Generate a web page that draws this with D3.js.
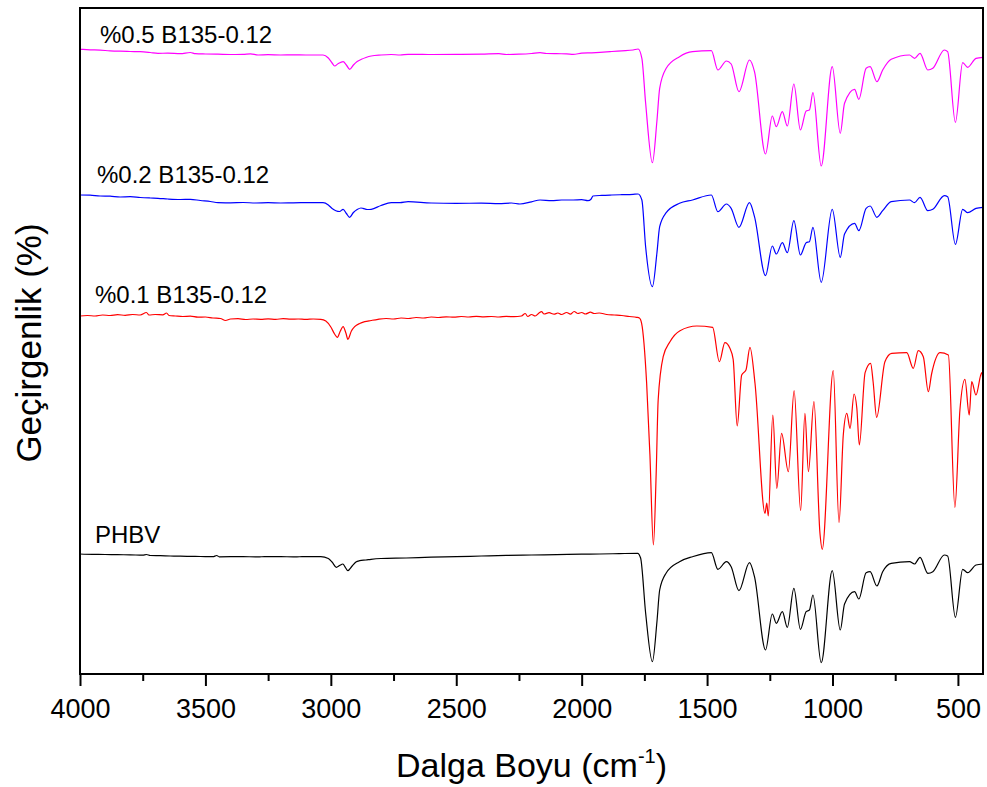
<!DOCTYPE html>
<html>
<head>
<meta charset="utf-8">
<script src="https://cdn.jsdelivr.net/npm/d3@7/dist/d3.min.js"></script>
<style>
  html, body { margin: 0; padding: 0; background: #fff; }
  svg { display: block; }
  text { font-family: Arial, "Liberation Sans", sans-serif; fill: #000; }
</style>
</head>
<body>
<svg id="chart" width="987" height="787"></svg>
<script>
// ---- Data (wavenumber cm^-1, transmittance in arbitrary offset units) ----
const seriesNames = ["%0.5 B135-0.12", "%0.2 B135-0.12", "%0.1 B135-0.12", "PHBV"];
const seriesColors = ["#ff00ff", "#0000ff", "#ff0000", "#000000"];
const majorTicks = [4000, 3500, 3000, 2500, 2000, 1500, 1000, 500];
const minorTicks = [3750, 3250, 2750, 2250, 1750, 1250, 750];

const b05 = [
  [4000,624.7],[3960,624.2],[3920,623.8],[3880,623.2],[3840,622.8],[3800,622.5],[3760,622.3],[3720,621.5],
  [3689,620.7],[3650,620.8],[3600,620.3],[3560,621.5],[3540,620.3],[3500,620],[3450,619.8],[3400,619.5],
  [3350,619.6],[3320,620.2],[3290,619],[3250,619.3],[3200,619],[3150,619.2],[3100,619],[3050,619],[3031,619],
  [3010,616],[2995,611],[2985,608],[2970,610.5],[2951,612.3],[2938,609],[2925,604.7],[2910,609],[2895,612.5],
  [2878,614.7],[2860,616.5],[2839,618],[2800,619],[2760,619.5],[2724,619],[2692,619.7],[2600,619.5],[2500,619.6],
  [2400,619.8],[2330,620.3],[2300,619.5],[2250,619.8],[2200,620.5],[2166,621.3],[2140,620.5],[2100,620.3],
  [2060,620.2],[2034,619.7],[2000,620.8],[1960,621.2],[1927,621.7],[1880,622.5],[1840,623.2],[1795,624],[1775,625],
  [1760,615.7],[1745,571],[1718,511.3],[1700,553],[1689,585.7],[1663,605.7],[1610,617.3],[1558,622.3],[1483,623.3],
  [1457,604],[1423,613],[1404,610],[1373,582.3],[1331,614],[1311,602.3],[1267,520],[1240,558],[1224,547.3],
  [1200,562.3],[1180,548],[1154,590],[1128,544],[1105,563],[1092,564],[1078,581.3],[1045,508],[1001,607.3],
  [969,540.7],[952,570.7],[912,584.7],[895,574.7],[866,605.7],[850,607.3],[823,592.3],[800,604],[766,614.7],
  [693,619],[673,615.7],[651,620.7],[620,604],[600,605.7],[554,624],[541,622.3],[510,551.7],[481,611.3],
  [461,606.7],[428,615.7],[400,616.7]
];

const b02 = [
  [4000,479],[3960,478.8],[3920,478],[3880,477.8],[3840,477],[3800,477.3],[3760,476.5],[3720,476],[3689,475.7],
  [3650,475],[3600,474.5],[3560,474.7],[3520,473.5],[3480,472.5],[3450,471.3],[3400,471.2],[3350,471.5],[3300,471],
  [3250,471.3],[3200,471],[3150,471.2],[3100,471.3],[3050,471.3],[3031,471.3],[3010,469],[2995,465.5],[2980,463.3],
  [2965,462.5],[2951,464.7],[2938,460.5],[2925,456.7],[2910,461.5],[2895,464.5],[2880,466],[2872,465.7],[2855,464.5],
  [2839,464.7],[2800,468.5],[2759,471.3],[2724,471.3],[2692,472.3],[2600,471],[2500,470.7],[2400,470.8],[2330,470.3],
  [2280,471],[2246,470],[2200,472.2],[2166,474],[2120,473.3],[2080,474],[2034,474],[2000,474.3],[1975,473.3],
  [1962,475],[1955,478],[1920,478.6],[1880,479],[1840,479.3],[1795,479.7],[1775,480],
  [1760,474],[1745,427.3],[1718,387.3],[1700,421],[1689,447.3],[1663,461.3],[1610,470.7],[1558,474],[1483,479],
  [1457,462.3],[1423,470],[1404,465.7],[1373,446.7],[1331,471.3],[1311,457.3],[1267,398.3],[1240,428],[1224,420],
  [1200,431.3],[1180,421.3],[1154,453.3],[1128,419],[1105,431.3],[1092,432.3],[1078,446.7],[1045,391.7],[1001,464.7],
  [969,416.7],[952,440],[912,450.7],[895,443.3],[866,465.7],[850,468],[823,456.7],[800,463.3],[766,472.3],
  [693,474],[673,471.3],[651,476.7],[620,463.3],[600,464.7],[554,478.3],[541,477.3],[510,429.7],[481,464.7],
  [461,461.3],[428,465.7],[400,466.7]
];

const b01 = [
  [4000,358],[3970,358.5],[3940,358],[3910,359],[3880,358.5],[3850,359.3],[3820,358.7],[3790,359.5],[3760,359],
  [3735,361.5],[3725,359],[3700,359.5],[3670,359.2],[3655,361],[3645,358.5],[3620,358],[3590,357.5],[3560,357.8],
  [3530,356.8],[3500,357],[3470,356],[3440,355.5],[3420,353.5],[3400,355],[3370,355.3],[3340,354.5],[3310,355],
  [3280,354.7],[3250,355.2],[3220,354.6],[3190,355.4],[3160,354.8],[3130,355],[3100,354.6],[3070,355],[3040,354.7],
  [3020,353],[3000,347],[2985,340],[2974,336.7],[2962,343],[2951,347.3],[2940,341],[2932,334.7],[2918,343],
  [2905,347.3],[2885,350.5],[2865,352.3],[2840,353.5],[2812,354.7],[2780,355.5],[2750,355],[2720,356],[2690,355.5],
  [2660,356.5],[2630,356],[2600,357],[2570,356.5],[2540,357.2],[2510,356.8],[2480,357.5],[2450,357],[2420,357.6],
  [2390,357.2],[2360,357.5],[2330,357],[2300,357.6],[2270,357.3],[2240,358],[2225,360.5],[2215,357.5],[2200,359.5],
  [2185,358],[2170,361],[2160,362.3],[2150,360],[2130,361.3],[2110,359.8],[2095,361],[2080,359.5],[2060,361.5],
  [2045,359.8],[2030,362.5],[2015,360.5],[2000,361.5],[1985,360],[1965,361.8],[1950,360.5],[1930,361],[1900,359.5],
  [1870,359],[1840,358.5],[1810,357.5],[1781,356.7],[1770,356],
  [1761,350.7],[1741,291],[1728,220],[1714,129],[1703,200],[1695,274],[1675,317.3],[1648,332.3],[1608,343.3],
  [1541,348],[1478,346.7],[1451,312.3],[1429,331.3],[1409,325.7],[1396,314.7],[1380,248],[1362,299],[1345,304],
  [1329,326.7],[1309,290.7],[1269,160.7],[1262,171],[1256,158],[1238,259],[1222,185.7],[1203,240.7],[1176,202.3],
  [1153,283.3],[1127,163.3],[1110,260.7],[1096,202.3],[1074,272.3],[1050,140.7],[1041,124.7],[997,303.3],
  [974,151.3],[957,239],[943,260.7],[930,245.7],[914,280],[903,265.7],[893,229],[870,301.3],[848,310.7],[838,292],
  [824,256.7],[791,312.3],[764,320.7],[704,321.3],[678,305.7],[658,323.3],[638,317.3],[618,282.3],[605,300],
  [571,321.3],[538,319],[512,166.7],[492,264],[472,294.7],[455,259],[445,292.3],[428,279],[405,301.3],[400,292]
];

const phbv = [
  [4000,120],[3950,119.6],[3900,119.5],[3850,119.3],[3800,119.2],[3750,118.8],[3735,119.5],[3720,118.5],[3680,118.3],
  [3640,118],[3600,117.8],[3560,117.6],[3520,117.5],[3470,117.3],[3455,118.5],[3445,117.2],[3400,117.3],[3350,117.3],
  [3300,117.2],[3250,117.3],[3200,117.3],[3150,117.2],[3100,117.3],[3040,117.3],[3010,115.5],[2995,112],[2978,106.7],
  [2965,108.5],[2952,110],[2942,106.5],[2932,103.3],[2915,108],[2900,112],[2885,113.3],[2860,114],[2840,114.7],
  [2800,115.5],[2700,116],[2600,116.8],[2500,117.3],[2400,118],[2300,118.6],[2200,119],[2100,119.4],[2000,119.8],
  [1928,120],[1850,120.4],[1777,120.7],
  [1765,116],[1745,61],[1718,12.3],[1700,52],[1689,84],[1663,101],[1610,112.3],[1558,117.3],[1483,121.3],
  [1457,104.7],[1423,112.3],[1404,107.3],[1373,83.3],[1331,111.3],[1311,97.3],[1267,24],[1240,60],[1224,50.7],
  [1200,62.3],[1180,46.7],[1154,85.7],[1128,44.7],[1105,62.3],[1092,64],[1078,79],[1045,11.3],[1001,103.3],
  [969,44],[952,70],[912,82.3],[895,75],[866,101.3],[850,102.3],[823,88],[800,102.3],[766,110.7],[693,112.3],
  [673,110],[651,116.7],[620,100.7],[600,102.3],[554,119],[541,118],[510,56.7],[481,104.7],[461,101.3],
  [428,109],[400,110]
];

const seriesData = [b05, b02, b01, phbv];

// ---- Layout ----
const svg = d3.select("#chart");
const mLeft = 80, mRight = 983, mTop = 8, mBottom = 674;

const x = d3.scaleLinear().domain([4000, 400]).range([mLeft, mRight]);
const y = d3.scaleLinear().domain([0, 666]).range([mBottom, mTop]);

svg.append("defs").append("clipPath").attr("id", "clip")
  .append("rect").attr("x", mLeft).attr("y", mTop).attr("width", mRight - mLeft).attr("height", mBottom - mTop);

const smoothLine = d3.line().x(d => x(d[0])).y(d => y(d[1])).curve(d3.curveMonotoneX);

const plot = svg.append("g").attr("clip-path", "url(#clip)");
seriesData.forEach((data, i) => {
  plot.append("path")
    .datum(data)
    .attr("fill", "none")
    .attr("stroke", seriesColors[i])
    .attr("stroke-width", 1.2)
    .attr("stroke-linejoin", "round")
    .attr("d", smoothLine);
});

// Frame
svg.append("rect")
  .attr("x", mLeft).attr("y", mTop).attr("width", mRight - mLeft).attr("height", mBottom - mTop)
  .attr("fill", "none").attr("stroke", "#000").attr("stroke-width", 2);

// Bottom axis: major ticks
const axMajor = svg.append("g").attr("transform", `translate(0,${mBottom})`)
  .call(d3.axisBottom(x).tickValues(majorTicks).tickSize(12).tickSizeOuter(0).tickFormat(d3.format("d")));
axMajor.select(".domain").remove();
axMajor.selectAll(".tick line").attr("stroke", "#000").attr("stroke-width", 2);
axMajor.selectAll(".tick text")
  .attr("y", 44).attr("dy", 0)
  .style("font-size", "27px")
  .style("font-family", 'Arial, "Liberation Sans", sans-serif')
  .attr("fill", "#000");

// Minor ticks
const axMinor = svg.append("g").attr("transform", `translate(0,${mBottom})`)
  .call(d3.axisBottom(x).tickValues(minorTicks).tickSize(7).tickSizeOuter(0).tickFormat(""));
axMinor.select(".domain").remove();
axMinor.selectAll(".tick line").attr("stroke", "#000").attr("stroke-width", 2);

// Axis titles
const xt = svg.append("text")
  .attr("x", (mLeft + mRight) / 2).attr("y", 777)
  .attr("text-anchor", "middle")
  .style("font-size", "34px");
xt.append("tspan").text("Dalga Boyu (cm");
xt.append("tspan").text("-1").style("font-size", "20px").attr("dy", -14);
xt.append("tspan").text(")").attr("dy", 14);

svg.append("text")
  .attr("transform", `translate(41,${(mTop + mBottom) / 2 + 2}) rotate(-90)`)
  .attr("text-anchor", "middle")
  .style("font-size", "35px")
  .text("Geçirgenlik (%)");

// Series labels
const labelPos = [[100, 43], [97, 183], [95, 303], [95, 543]];
seriesNames.forEach((name, i) => {
  svg.append("text")
    .attr("x", labelPos[i][0]).attr("y", labelPos[i][1])
    .style("font-size", "24px")
    .text(name);
});
</script>
</body>
</html>
